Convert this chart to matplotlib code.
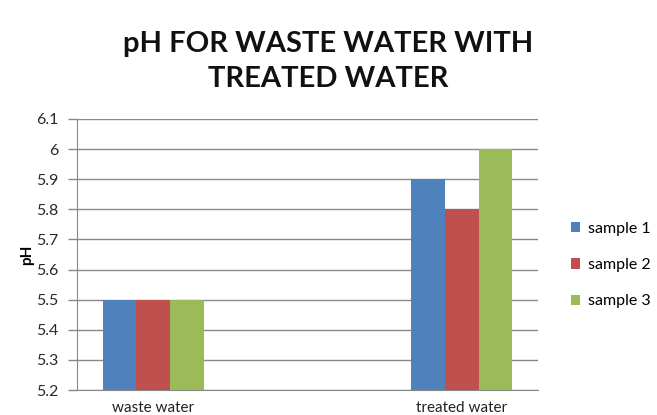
import numpy as np
import matplotlib
matplotlib.use("Agg")
import matplotlib.pyplot as plt

categories = ["waste water", "treated water"]
series_names = ["sample 1", "sample 2", "sample 3"]
sample1 = [5.5, 5.9]
sample2 = [5.5, 5.8]
sample3 = [5.5, 6.0]
colors = ["#4F81BD", "#C0504D", "#9BBB59"]
yticks = [5.2, 5.3, 5.4, 5.5, 5.6, 5.7, 5.8, 5.9, 6.0, 6.1]
ytick_labels = ["5.2", "5.3", "5.4", "5.5", "5.6", "5.7", "5.8", "5.9", "6", "6.1"]

plt.rcParams['font.family'] = ['Lato', 'DejaVu Sans']

fig = plt.figure(figsize=(6.57, 4.15), dpi=100)
ax = fig.add_axes([0.1172, 0.0602, 0.7017, 0.6531])

x = np.arange(len(categories))
w = 0.11
for i, (vals, name) in enumerate(zip([sample1, sample2, sample3], series_names)):
    ax.bar(x + (i - 1) * w, vals, width=w, color=colors[i], label=name, zorder=3)

ax.set_ylim(5.2, 6.1)
ax.set_xlim(-0.248, 1.248)
ax.set_yticks(yticks)
ax.set_yticklabels(ytick_labels, fontsize=11.5, color="#2a2a2a")
ax.set_xticks(x)
ax.set_xticklabels(categories, fontsize=11, color="#222222")
ax.tick_params(axis="x", length=0, pad=8)
ax.tick_params(axis="y", length=6.5, width=1, color="#888888", pad=7)
ax.grid(axis="y", color="#888888", linewidth=1, zorder=0)
for s in ["top", "right"]:
    ax.spines[s].set_visible(False)
ax.spines["left"].set_color("#888888")
ax.spines["bottom"].set_color("#888888")

ax.set_ylabel("pH", fontsize=11, fontweight="bold", labelpad=1)

fig.text(0.5, 0.852, "pH FOR WASTE WATER WITH\nTREATED WATER", ha="center", va="center",
         fontsize=21, fontweight="bold", linespacing=1.4, color="#111111")

leg = ax.legend(loc="center left", bbox_to_anchor=(1.04, 0.461), frameon=False,
                fontsize=11.5, handlelength=0.6, handleheight=0.6, handletextpad=0.5,
                labelspacing=1.4)

fig.savefig("out.png", dpi=100)
